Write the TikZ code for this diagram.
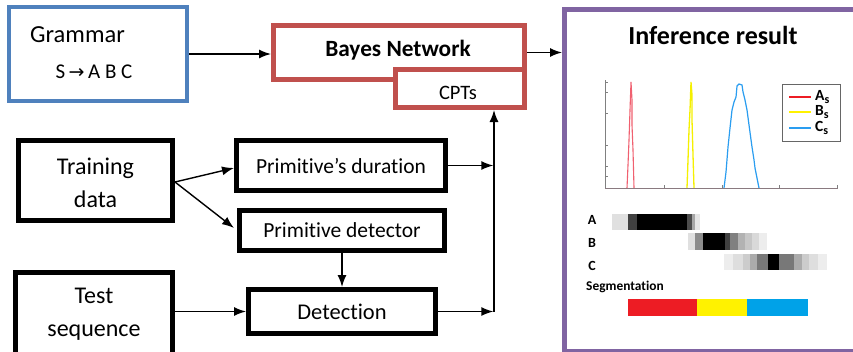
\documentclass[tikz,border=0pt]{standalone}
\usepackage{fontspec}
\setmainfont{Carlito}[Ligatures=NoCommon]
\newfontfamily\symfont{DejaVu Sans}
\usetikzlibrary{arrows.meta}
\definecolor{gblue}{HTML}{4F81BD}
\definecolor{gred}{HTML}{C0504D}
\definecolor{gpurple}{HTML}{8064A2}
\definecolor{segred}{HTML}{ED1C24}
\definecolor{segyellow}{HTML}{FFF200}
\definecolor{segblue}{HTML}{00A2E8}
\definecolor{curvered}{HTML}{F06070}
\definecolor{curveyellow}{HTML}{F5F000}
\definecolor{curveblue}{HTML}{2A9DF0}
\definecolor{axisgray}{HTML}{8A7A80}
\begin{document}
\begin{tikzpicture}[x=1pt,y=-1pt,
  box/.style={rectangle, draw=black, line width=5pt, fill=white, inner sep=0pt, align=center},
  colbox/.style={rectangle, line width=#1, fill=white, inner sep=0pt},
  txt/.style={inner sep=0pt, align=center},
  arr/.style={line width=1.4pt, -{Latex[length=12pt,width=9pt]}},
  big/.style={font=\fontsize{24}{33}\selectfont},
  mid/.style={font=\fontsize{21.5}{26}\selectfont},
  rowlbl/.style={inner sep=0pt, font=\fontsize{14}{15}\selectfont\bfseries},
  leglbl/.style={inner sep=0pt, anchor=west, font=\fontsize{15.5}{16}\selectfont\bfseries},
]
\useasboundingbox (0,0) rectangle (853,351);

% ---------- top row ----------
\node[colbox=4pt, draw=gblue, minimum width=178pt, minimum height=94pt] (grammar) at (98,54) {};
\node[txt, font=\fontsize{24.5}{28}\selectfont] (gtitle) at (77.5,35) {Grammar};
\node[txt, font=\fontsize{21}{24}\selectfont] (grule) at (94,72) {S\,{\symfont\fontsize{19}{20}\selectfont →}\,A B C};

\node[colbox=5pt, draw=gred, minimum width=251pt, minimum height=54pt] (bayes) at (399,52.5) {};
\node[txt, font=\fontsize{23.3}{28}\selectfont\bfseries] (btitle) at (398,50) {Bayes Network};
\node[colbox=5pt, draw=gred, minimum width=129pt, minimum height=38pt] (cpts) at (460,88.5) {};
\node[txt, font=\fontsize{20.5}{24}\selectfont] (cptstxt) at (458,93) {CPTs};

\node[colbox=5pt, draw=gpurple, minimum width=293.5pt, minimum height=342pt] (infer) at (711.25,180.5) {};
\node[txt, font=\fontsize{26}{30}\selectfont\bfseries] (ititle) at (713,35) {Inference result};

% ---------- left / middle boxes ----------
\node[box, big, minimum width=154pt, minimum height=80pt] (train) at (95.5,180.5) {};
\node[txt, big] (traintxt) at (95.5,183) {Training\\data};
\node[box, mid, minimum width=209pt, minimum height=50pt] (primdur) at (341,165.5) {Primitive’s duration};
\node[box, mid, minimum width=205pt, minimum height=40pt] (primdet) at (342,230.5) {Primitive detector};
\node[box, font=\fontsize{22.5}{26}\selectfont, minimum width=187pt, minimum height=44pt] (detect) at (342,311.5) {Detection};
\node[box, big, minimum width=157pt, minimum height=83.5pt] (test) at (94,314.25) {};
\node[txt, big] (testtxt) at (94,314.5) {Test\\sequence};

% ---------- connectors ----------
\coordinate (bus) at (494,312);
\coordinate (tsplit) at (175,182);
\draw[arr] (grammar.east) -- (grammar.east -| bayes.west);
\draw[arr] (bayes.east) -- (bayes.east -| infer.west);
\draw[arr] (tsplit) -- ([yshift=-2.5pt]primdur.west);
\draw[arr] (tsplit) -- ([xshift=-3pt,yshift=2.5pt]primdet.west);
\draw[arr] (primdet.south) -- (detect.north);
\draw[arr] (test.east |- detect.west) -- (detect.west);
\draw[arr, shorten >=0.7pt] (primdur.east) -- (primdur.east -| bus);
\draw[arr, shorten >=0.7pt] (detect.east) -- (detect.east -| bus);
\draw[arr] (detect.east -| bus) -- (bus |- cpts.south);

% ---------- plot ----------
\draw[gray, line width=0.8pt] (605,80) -- (605,188);
\foreach \yy in {82,92,113,145,166,176} \draw[gray, line width=0.6pt] (605,\yy) -- (608,\yy);
\foreach \xx in {664,722,779,837} \draw[gray, line width=0.6pt] (\xx,188) -- (\xx,185);
\draw[curvered, line width=1.1pt] (627,188) -- (628,165) -- (629,140) -- (630,110) -- (631,82) -- (632,100) -- (632,125) -- (633,150) -- (634,188);
\draw[curveyellow, line width=1.3pt] (687,188) -- (688,160) -- (689,130) -- (690,110) -- (691,82) -- (692,95) -- (692,120) -- (693,155) -- (694,188);
\draw[curveblue, line width=1.2pt] (724,188) -- (726,172) -- (728,147) -- (730,128) -- (732,110) -- (734,102) -- (736,97) -- (737,86) -- (739,84) -- (742,85) -- (743,92) -- (745,100) -- (747,110) -- (749,125) -- (752,147) -- (754,160) -- (755,168) -- (757,178) -- (759,188);
\draw[axisgray, line width=0.9pt] (605,188) -- (838,188);

% legend
\node[rectangle, draw=gray!80!black, line width=0.9pt, fill=white, minimum width=58pt, minimum height=57pt, inner sep=0pt] (legend) at (811,112.5) {};
\draw[segred, line width=1.8pt] (789,97) -- (811,97);
\draw[segyellow, line width=1.8pt] (789,112) -- (811,112);
\draw[curveblue, line width=1.8pt] (789,128) -- (811,128);
\node[leglbl] (la) at (815,97) {A\raisebox{-2.5pt}{\fontsize{12}{12}\selectfont s}};
\node[leglbl] (lb) at (815,112) {B\raisebox{-2.5pt}{\fontsize{12}{12}\selectfont s}};
\node[leglbl] (lc) at (815,128) {C\raisebox{-2.5pt}{\fontsize{12}{12}\selectfont s}};

% ---------- heat bars ----------
\node[rowlbl] (rowa) at (592,220) {A};
\node[rowlbl] (rowb) at (592,243) {B};
\node[rowlbl] (rowc) at (592,266) {C};
% A
\fill[black!12] (612,214) rectangle (628,230);
\fill[black!75] (628,214) rectangle (637,230);
\fill[black] (637,214) rectangle (687,230);
\fill[black!70] (687,214) rectangle (692,230);
\fill[black!35] (692,214) rectangle (695,230);
\fill[black!10] (695,214) rectangle (700,230);
% B
\fill[black!12] (688,233) rectangle (695,250);
\fill[black!45] (695,233) rectangle (703,250);
\fill[black] (703,233) rectangle (725,250);
\fill[black!75] (725,233) rectangle (730,250);
\fill[black!50] (730,233) rectangle (738,250);
\fill[black!30] (738,233) rectangle (745,250);
\fill[black!22] (745,233) rectangle (752,250);
\fill[black!15] (752,233) rectangle (759,250);
\fill[black!7] (759,233) rectangle (767,250);
% C
\fill[black!7] (724,254) rectangle (733,270);
\fill[black!13] (733,254) rectangle (743,270);
\fill[black!20] (743,254) rectangle (750,270);
\fill[black!33] (750,254) rectangle (757,270);
\fill[black!53] (757,254) rectangle (768,270);
\fill[black] (768,254) rectangle (779,270);
\fill[black!53] (779,254) rectangle (794,270);
\fill[black!33] (794,254) rectangle (802,270);
\fill[black!20] (802,254) rectangle (809,270);
\fill[black!13] (809,254) rectangle (818,270);
\fill[black!7] (818,254) rectangle (827,270);

\node[txt, anchor=west, font=\fontsize{13.4}{14}\selectfont\bfseries] (seglabel) at (586,287) {Segmentation};
\fill[segred] (628,299) rectangle (697,316);
\fill[segyellow] (697,299) rectangle (747,316);
\fill[segblue] (747,299) rectangle (808,316);
\end{tikzpicture}
\end{document}
